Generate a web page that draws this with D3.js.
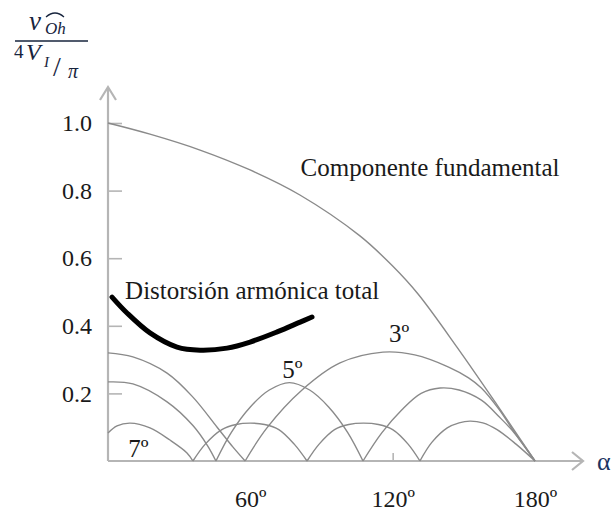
<!DOCTYPE html>
<html>
<head>
<meta charset="utf-8">
<script src="https://cdn.jsdelivr.net/npm/d3@7"></script>
<style>
  body { margin: 0; background: #fff; }
  svg { display: block; }
</style>
</head>
<body>
<div id="chart" style="width:614px;height:512px"></div>
<script>
// values: [alpha in degrees, amplitude / (4V/pi)]
let fundamental = [[0, 1.0], [17.7, 0.967], [38.8, 0.92], [59.9, 0.861], [80.9, 0.787], [106.2, 0.666],
  [120.1, 0.576], [130.7, 0.494], [147.1, 0.337], [164, 0.166], [180, 0]];

let harmonic3 = [
  [[0, 0.32], [10.5, 0.308], [24.9, 0.26], [35.8, 0.189], [46, 0.1], [52.7, 0.041], [57.8, 0]],
  [[57.8, 0], [67, 0.098], [81.8, 0.21], [97.8, 0.29], [115.9, 0.322], [129.3, 0.314], [143.6, 0.278],
    [152, 0.246], [157.4, 0.216], [164.6, 0.155], [172, 0.078], [180, 0]]
];

let harmonic5 = [
  [[0, 0.234], [10.5, 0.228], [24.9, 0.175], [35.8, 0.105], [42, 0.045], [45.5, 0]],
  [[45.5, 0], [52, 0.085], [60, 0.16], [68, 0.21], [76.5, 0.232], [85, 0.21], [93, 0.16], [101, 0.085], [107.5, 0]],
  [[107.5, 0], [115.4, 0.083], [123.8, 0.151], [132, 0.2], [140, 0.216], [148, 0.21], [157.4, 0.18],
    [165, 0.13], [171.3, 0.083], [180, 0]]
];

let harmonic7 = [
  [[0, 0.083], [3.8, 0.104], [9.3, 0.112], [17.7, 0.098], [26.1, 0.062], [33.3, 0.024], [35.8, 0]],
  [[35.8, 0], [41, 0.05], [48, 0.093], [54, 0.108], [59.9, 0.112], [66, 0.108], [72, 0.093], [78.5, 0.05], [83.9, 0]],
  [[83.9, 0], [89, 0.05], [95.5, 0.093], [101.5, 0.108], [107.7, 0.112], [114, 0.108], [120, 0.093], [126.5, 0.05], [131.5, 0]],
  [[131.5, 0], [136.5, 0.055], [143, 0.098], [148, 0.113], [152.6, 0.118], [158, 0.113], [164, 0.093], [172, 0.05], [180, 0]]
];

let thd = [[1.7, 0.485], [8, 0.438], [17.7, 0.379], [29.1, 0.337], [38.8, 0.328], [50.2, 0.334],
  [59.9, 0.352], [71.3, 0.382], [81, 0.411], [86, 0.426]];

let yTicks = [0.2, 0.4, 0.6, 0.8, 1.0];
let xTicks = [60, 120, 180];

// labels placed next to the curves: [text, alpha, value]
let curveLabels = [
  ["Componente fundamental", 81.2, 0.842],
  ["Distorsión armónica total", 7.2, 0.48],
  ["3º", 118.5, 0.352],
  ["5º", 73.5, 0.245],
  ["7º", 8.5, 0.012]
];

let container = document.getElementById("chart");
let width = container.clientWidth;
let height = container.clientHeight;
let svg = d3.select(container).append("svg")
  .attr("width", width)
  .attr("height", height);

let axisColor = "#b5b5b5";
let curveColor = "#8a8a8a";
let textColor = "#1a1a1a";
let serif = "Liberation Serif, Times New Roman, serif";

let x = d3.scaleLinear().domain([0, 180]).range([108, 535]);
let y = d3.scaleLinear().domain([0, 1]).range([461, 123]);

// axes with ticks, domain path replaced by arrows below
let yAxis = svg.append("g")
  .attr("transform", "translate(" + x(0) + ",0)")
  .call(d3.axisLeft(y).tickValues(yTicks).tickSizeInner(-14).tickSizeOuter(0).tickPadding(16)
    .tickFormat(d3.format(".1f")));
let xAxis = svg.append("g")
  .attr("transform", "translate(0," + y(0) + ")")
  .call(d3.axisBottom(x).tickValues(xTicks).tickSizeInner(-8).tickSizeOuter(0).tickPadding(29)
    .tickFormat(d => d + "º"));
for (let g of [yAxis, xAxis]) {
  g.attr("font-family", serif).attr("font-size", 24);
  g.select(".domain").remove();
  g.selectAll(".tick line").attr("stroke", axisColor).attr("stroke-width", 1.6);
  g.selectAll(".tick text").attr("fill", textColor);
}
xAxis.selectAll(".tick line").attr("opacity", d => d == 120 ? 1 : 0);

// axis lines with open arrow heads
let yTop = 87, xEnd = 583;
svg.append("path")
  .attr("d", "M" + x(0) + "," + y(0) + "V" + yTop + "M" + (x(0) - 8) + "," + (yTop + 13) + "L" + x(0) + "," + yTop
    + "L" + (x(0) + 8) + "," + (yTop + 13))
  .attr("fill", "none")
  .attr("stroke", axisColor)
  .attr("stroke-width", 2.2);
svg.append("path")
  .attr("d", "M" + x(0) + "," + y(0) + "H" + xEnd + "M" + (xEnd - 11) + "," + (y(0) - 9) + "L" + xEnd + "," + y(0)
    + "L" + (xEnd - 11) + "," + (y(0) + 9))
  .attr("fill", "none")
  .attr("stroke", axisColor)
  .attr("stroke-width", 2.2);

svg.append("text")
  .attr("x", 597)
  .attr("y", y(0) + 9)
  .attr("fill", "#1d3461")
  .attr("font-family", serif)
  .attr("font-size", 26)
  .text("α");

// curves
let line = d3.line()
  .x(d => x(d[0]))
  .y(d => y(d[1]))
  .curve(d3.curveCatmullRom.alpha(0.5));

let lobes = [].concat(harmonic3, harmonic5, harmonic7, [fundamental]);
svg.selectAll(".curve")
  .data(lobes).enter().append("path")
  .attr("d", line)
  .attr("fill", "none")
  .attr("stroke", curveColor)
  .attr("stroke-width", 1.4)
  .classed("curve", true);

svg.append("path")
  .datum(thd)
  .attr("d", line)
  .attr("fill", "none")
  .attr("stroke", "#000")
  .attr("stroke-width", 5)
  .attr("stroke-linecap", "round");

svg.selectAll(".label")
  .data(curveLabels).enter().append("text")
  .attr("x", d => x(d[1]))
  .attr("y", d => y(d[2]))
  .attr("fill", textColor)
  .attr("font-family", serif)
  .attr("font-size", 25)
  .classed("label", true)
  .text(d => d[0]);

// y axis title: v_Oh (hat) over 4 V_I/pi
let navy = "#17243d";
let title = svg.append("g").attr("fill", navy).attr("font-family", serif).attr("font-style", "italic");
title.append("text").attr("x", 29).attr("y", 30).attr("font-size", 27).text("v");
title.append("text").attr("x", 45).attr("y", 34).attr("font-size", 17).text("Oh");
title.append("path")
  .attr("d", "M46,17 Q55,9 64,17")
  .attr("fill", "none")
  .attr("stroke", navy)
  .attr("stroke-width", 1.2);
title.append("line")
  .attr("x1", 15).attr("y1", 41).attr("x2", 88).attr("y2", 41)
  .attr("stroke", navy)
  .attr("stroke-width", 1.5);
title.append("text").attr("x", 14).attr("y", 58).attr("font-size", 19).attr("font-style", "normal").text("4");
title.append("text").attr("x", 26).attr("y", 60).attr("font-size", 24).text("V");
title.append("text").attr("x", 44).attr("y", 67).attr("font-size", 15).text("I");
title.append("text").attr("x", 53).attr("y", 76).attr("font-size", 28).attr("font-style", "normal").text("/");
title.append("text").attr("x", 68).attr("y", 78).attr("font-size", 20).text("π");
</script>
</body>
</html>
